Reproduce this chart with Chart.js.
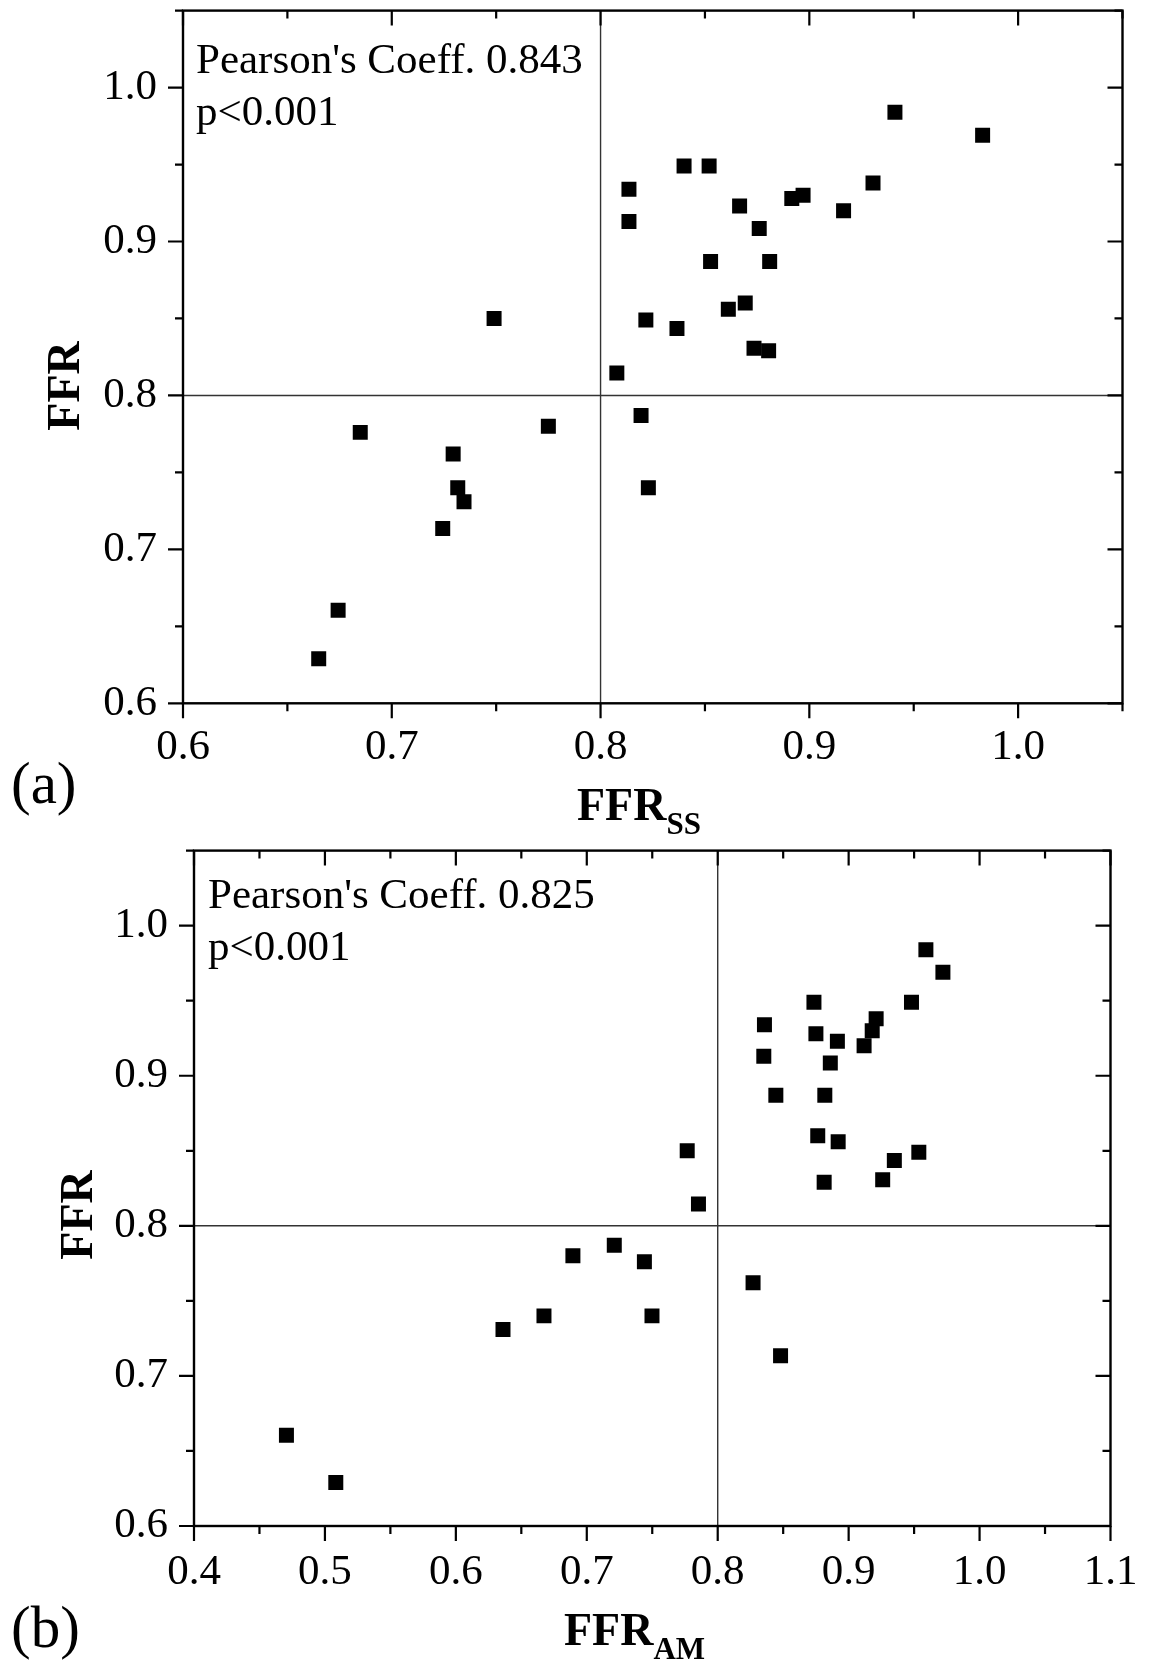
<!DOCTYPE html>
<html><head><meta charset="utf-8">
<script src="https://cdn.jsdelivr.net/npm/chart.js@4.4.0/dist/chart.umd.min.js"></script>
<style>
html,body{margin:0;padding:0;background:#fff;}
#wrap{position:relative;width:1152px;height:1663px;}
.box{position:absolute;left:0;width:1152px;}
</style></head><body>
<div id="wrap">
<div class="box" style="top:0;height:840px"><canvas id="c1" width="1152" height="840"></canvas></div>
<div class="box" style="top:840px;height:823px"><canvas id="c2" width="1152" height="823"></canvas></div>
</div>
<script>
// ---- data ----
const ffr   = [0.984,0.969,0.949,0.949,0.938,0.934,0.930,0.928,0.923,0.920,0.913,0.9085,0.887,0.887,0.860,0.856,0.850,0.849,0.8435,0.8307,0.829,0.8145,0.787,0.780,0.776,0.762,0.740,0.740,0.731,0.7135,0.6605,0.629];
const ffrSS = [0.941,0.983,0.840,0.852,0.9305,0.8136,0.897,0.8916,0.8666,0.9164,0.8136,0.876,0.8527,0.881,0.8693,0.8612,0.749,0.8217,0.8366,0.8735,0.8805,0.8078,0.8194,0.775,0.6849,0.7294,0.7316,0.8229,0.7346,0.7244,0.6743,0.665];
const ffrAM = [0.959,0.972,0.8735,0.948,0.921,0.8357,0.918,0.875,0.8914,0.9118,0.8352,0.886,0.8444,0.8818,0.8764,0.892,0.7767,0.9536,0.9349,0.926,0.8813,0.7853,0.721,0.6894,0.744,0.827,0.6673,0.7498,0.636,0.848,0.4706,0.5083];
const yTickLabels  = ['0.6','0.7','0.8','0.9','1.0'];
const xTickLabelsA = ['0.6','0.7','0.8','0.9','1.0'];
const xTickLabelsB = ['0.4','0.5','0.6','0.7','0.8','0.9','1.0','1.1'];
const cutoff = 0.8;
const pearsonA = "Pearson's Coeff. 0.843";
const pearsonB = "Pearson's Coeff. 0.825";
const pText = 'p<0.001';

const SERIF = '"Liberation Serif","Times New Roman",serif';

function deco(opts){
  return {
    id:'deco',
    beforeDatasetsDraw(chart){
      const {ctx, chartArea:a, scales:{x,y}} = chart;
      ctx.save();
      ctx.strokeStyle='#333'; ctx.lineWidth=1.4;
      const px = x.getPixelForValue(cutoff), py = y.getPixelForValue(cutoff);
      ctx.beginPath();
      ctx.moveTo(px,a.top); ctx.lineTo(px,a.bottom);
      ctx.moveTo(a.left,py); ctx.lineTo(a.right,py);
      ctx.stroke();
      ctx.restore();
    },
    afterDatasetsDraw(chart){
      const {ctx, chartArea:a, scales:{x,y}} = chart;
      ctx.save();
      ctx.strokeStyle='#000'; ctx.lineWidth=2.4;
      ctx.strokeRect(a.left,a.top,a.right-a.left,a.bottom-a.top);
      ctx.lineWidth=2.2;
      ctx.beginPath();
      x.ticks.forEach(t=>{
        const v=t.value, p=x.getPixelForValue(v);
        const L = (Math.round(v*100)%10===0)?15:8;
        ctx.moveTo(p,a.bottom); ctx.lineTo(p,a.bottom+L);
        ctx.moveTo(p,a.top); ctx.lineTo(p,a.top+L);
      });
      y.ticks.forEach(t=>{
        const v=t.value, p=y.getPixelForValue(v);
        const L = (Math.round(v*100)%10===0)?15:8;
        ctx.moveTo(a.left-L,p); ctx.lineTo(a.left,p);
        ctx.moveTo(a.right-L,p); ctx.lineTo(a.right,p);
      });
      ctx.stroke();
      ctx.restore();
    },
    afterDraw(chart){
      const ctx = chart.ctx;
      ctx.save();
      ctx.fillStyle='#000';
      ctx.textBaseline='alphabetic';
      ctx.textAlign='left';
      ctx.font='43px '+SERIF;
      ctx.fillText(opts.pearson, opts.annX, opts.annY1);
      ctx.fillText(pText, opts.annX, opts.annY2);
      ctx.font='59px '+SERIF;
      ctx.fillText(opts.panel, opts.panelX, opts.panelY);
      ctx.font='bold 46px '+SERIF;
      ctx.fillText('FFR', opts.xtX, opts.xtY);
      const w = ctx.measureText('FFR').width;
      ctx.font='bold 31px '+SERIF;
      ctx.fillText(opts.sub, opts.xtX+w, opts.xtY+14);
      ctx.font='bold 46px '+SERIF;
      ctx.translate(opts.ytX, opts.ytY);
      ctx.rotate(-Math.PI/2);
      ctx.textAlign='center';
      ctx.fillText('FFR', 0, 0);
      ctx.restore();
    }
  };
}

function lbl(v, list){
  const s1=(Math.round(v*10)/10).toFixed(1);
  return (Math.abs(v*10-Math.round(v*10))<1e-6 && list.includes(s1))?s1:'';
}

function makeChart(id, xs, xmin, xmax, xLabels, pad, yW, xH, opts){
  const pts = xs.map((v,i)=>({x:v, y:ffr[i]}));
  return new Chart(document.getElementById(id), {
    type:'scatter',
    data:{datasets:[{data:pts, pointStyle:'rect', pointRadius:10.6, pointHoverRadius:10.6,
      backgroundColor:'#000', borderColor:'#000', borderWidth:0}]},
    options:{
      responsive:false, animation:false, devicePixelRatio:1,
      layout:{padding:pad},
      plugins:{legend:{display:false}, tooltip:{enabled:false}},
      events:[],
      scales:{
        x:{type:'linear', min:xmin, max:xmax,
          grid:{display:false, drawTicks:false}, border:{display:false},
          ticks:{stepSize:0.05, autoSkip:false, maxRotation:0, minRotation:0, padding:opts.xPad,
            color:'#000', font:{family:SERIF, size:43},
            callback:(v)=>lbl(v, xLabels)},
          afterFit:(s)=>{s.height=xH; s.paddingLeft=0; s.paddingRight=0;}
        },
        y:{type:'linear', min:0.6, max:1.05,
          grid:{display:false, drawTicks:false}, border:{display:false},
          ticks:{stepSize:0.05, autoSkip:false, padding:opts.yPad,
            color:'#000', font:{family:SERIF, size:43},
            callback:(v)=>lbl(v, yTickLabels)},
          afterFit:(s)=>{s.width=yW; s.paddingTop=0; s.paddingBottom=0;}
        }
      }
    },
    plugins:[deco(opts)]
  });
}

makeChart('c1', ffrSS, 0.6, 1.05, xTickLabelsA,
  {top:9.3, right:29.5, left:0, bottom:0}, 183, 136.7,
  {xPad:19, yPad:26, pearson:pearsonA, annX:196, annY1:72.7, annY2:125,
   panel:'(a)', panelX:11, panelY:803, xtX:577, xtY:820, sub:'SS', ytX:79, ytY:386});

makeChart('c2', ffrAM, 0.4, 1.1, xTickLabelsB,
  {top:8.3, right:41.5, left:0, bottom:0}, 194, 137,
  {xPad:21, yPad:26, pearson:pearsonB, annX:208, annY1:68.3, annY2:120,
   panel:'(b)', panelX:11, panelY:807, xtX:564, xtY:805, sub:'AM', ytX:91.7, ytY:375});
</script>
</body></html>
